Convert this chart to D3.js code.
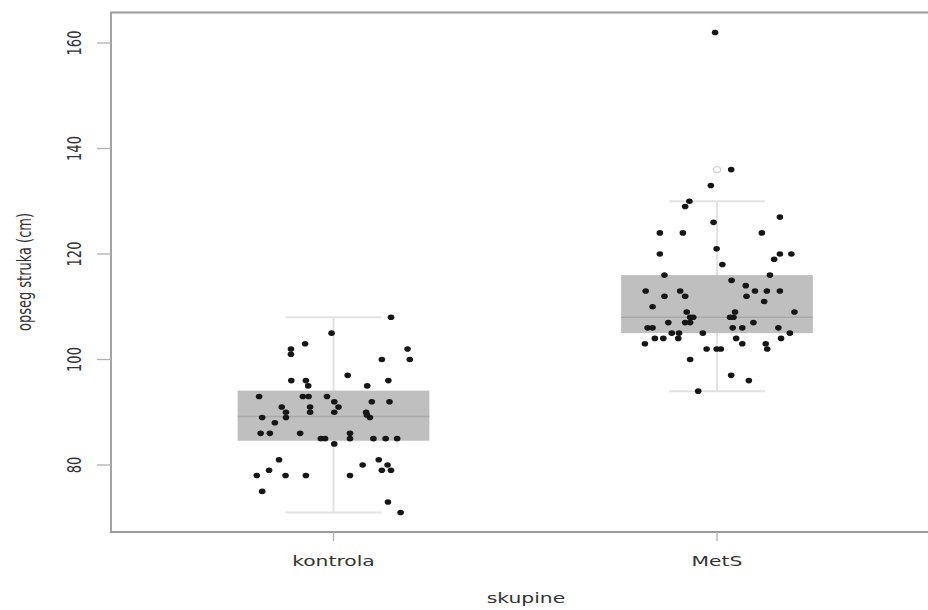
<!DOCTYPE html>
<html><head><meta charset="utf-8">
<script src="https://cdn.jsdelivr.net/npm/d3@7"></script>
<style>html,body{margin:0;padding:0;background:#fff;}svg{display:block;}</style>
</head><body>
<script>
// ---- data ----
const categories = ["kontrola", "MetS"];
const yTicks = [80, 100, 120, 140, 160];
// box summaries: [lower whisker, q1, median, q3, upper whisker]
const boxKontrola = [71, 84.6, 89.2, 94.1, 108];
const boxMetS = [94, 105, 108, 116, 130];
const outliersMetS = [136, 162];
// jittered points: value and horizontal jitter (category units)
const kontrolaValues = [108,105,103,102,101,102,100,100,97,96,96,95,96,95,93,93,93,93,92,92,92,91,91,91,90,90,90,90,89.5,89,89,89,88,86,86,86,86,85,85,85,85,85,85,84,81,81,80,80,79,79,79,78,78,78,78,75,73,71];
const kontrolaJitter = [0.150,-0.005,-0.074,-0.111,-0.111,0.193,0.199,0.126,0.037,-0.110,-0.072,-0.066,0.143,0.088,-0.194,-0.080,-0.065,-0.017,0.100,0.146,0.002,0.013,-0.135,-0.061,-0.124,-0.061,0.002,0.085,0.087,0.095,-0.124,-0.186,-0.153,-0.190,-0.166,-0.087,0.043,0.043,-0.033,-0.022,0.104,0.136,0.166,0.002,-0.142,0.118,0.076,0.141,0.150,0.126,-0.168,-0.200,-0.125,-0.072,0.043,-0.186,0.142,0.175];
const metsValues = [162,136,133,130,129,127,126,124,124,124,121,120,120,120,119,118,116,116,115,114,113,113,113,113,113,112,112,112,111,110,109,109,109,108,108,108,108,107,107,107,107,106,106,106,106,106,105,105,105,105,104,104,104,104,104,103,103,103,102,102,102,102,100,97,96,94];
const metsJitter = [-0.005,0.037,-0.016,-0.072,-0.083,0.164,-0.009,-0.149,-0.089,0.117,-0.001,-0.149,0.164,0.194,0.149,0.014,-0.137,0.138,0.038,0.075,-0.186,-0.096,0.099,0.130,0.164,-0.137,-0.083,0.077,0.123,-0.168,0.202,-0.079,0.047,-0.062,-0.070,0.043,0.034,-0.127,-0.083,-0.070,0.095,-0.181,-0.168,0.041,0.066,0.160,-0.118,-0.099,-0.037,0.190,-0.162,-0.140,-0.101,0.050,0.167,-0.188,0.066,0.127,0.131,-0.027,-0.001,0.010,-0.070,0.037,0.083,-0.049];

const W = 928, H = 610;
const svg = d3.select("body").append("svg").attr("width", W).attr("height", H);
const k = 1.45; // horizontal stretch of the source image

const x = d3.scaleLinear().domain([1, 2]).range([333.5, 717]);
const y = d3.scaleLinear().domain([80, 160]).range([465, 43]);
const frame = {left: 111, top: 12.5, bottom: 532, right: 945};

const boxes = [
  {i: 1, s: boxKontrola, outliers: []},
  {i: 2, s: boxMetS, outliers: [outliersMetS[0]]}
];
const boxHalf = 0.25, capHalf = 0.125;

boxes.forEach(b => {
  const g = svg.append("g").attr("stroke", "#e2e2e2").attr("stroke-width", 2).attr("fill", "none");
  g.append("line").attr("x1", x(b.i)).attr("x2", x(b.i)).attr("y1", y(b.s[0])).attr("y2", y(b.s[4]));
  g.append("line").attr("x1", x(b.i - capHalf)).attr("x2", x(b.i + capHalf)).attr("y1", y(b.s[0])).attr("y2", y(b.s[0]));
  g.append("line").attr("x1", x(b.i - capHalf)).attr("x2", x(b.i + capHalf)).attr("y1", y(b.s[4])).attr("y2", y(b.s[4]));
  svg.append("rect").attr("x", x(b.i - boxHalf)).attr("width", x(b.i + boxHalf) - x(b.i - boxHalf))
    .attr("y", y(b.s[3])).attr("height", y(b.s[1]) - y(b.s[3])).attr("fill", "#bfbfbf");
  svg.append("line").attr("x1", x(b.i - boxHalf)).attr("x2", x(b.i + boxHalf))
    .attr("y1", y(b.s[2])).attr("y2", y(b.s[2])).attr("stroke", "#a9a9a9").attr("stroke-width", 1.5);
  b.outliers.forEach(o => {
    svg.append("ellipse").attr("cx", x(b.i)).attr("cy", y(o)).attr("rx", 3.6).attr("ry", 3)
      .attr("fill", "#fff").attr("stroke", "#d4d4d4").attr("stroke-width", 1.3);
  });
});

// points
const pts = [];
kontrolaValues.forEach((v, j) => pts.push({i: 1, v, jit: kontrolaJitter[j]}));
metsValues.forEach((v, j) => pts.push({i: 2, v, jit: metsJitter[j]}));
svg.append("g").selectAll("ellipse").data(pts).join("ellipse")
  .attr("cx", d => x(d.i + d.jit)).attr("cy", d => y(d.v))
  .attr("rx", 3.3).attr("ry", 2.8).attr("fill", "#161616");

// frame
svg.append("path")
  .attr("d", `M${frame.right},${frame.top}H${frame.left}V${frame.bottom}H${frame.right}`)
  .attr("fill", "none").attr("stroke", "#9a9a9a").attr("stroke-width", 1.8);

// y axis ticks and labels
const yt = svg.append("g");
yTicks.forEach(t => {
  yt.append("line").attr("x1", 97).attr("x2", frame.left).attr("y1", y(t)).attr("y2", y(t))
    .attr("stroke", "#b0b0b0").attr("stroke-width", 1.3);
  yt.append("text").attr("transform", `translate(81,${y(t)}) rotate(-90) scale(1,${k})`)
    .attr("text-anchor", "middle").attr("font-family", "DejaVu Sans").attr("font-size", 13)
    .attr("fill", "#333").text(t);
});
// x axis ticks and labels
categories.forEach((c, j) => {
  svg.append("line").attr("x1", x(j + 1)).attr("x2", x(j + 1)).attr("y1", frame.bottom).attr("y2", frame.bottom + 9)
    .attr("stroke", "#b0b0b0").attr("stroke-width", 1.3);
  svg.append("text").attr("transform", `translate(${x(j + 1)},566) scale(${k},1)`)
    .attr("text-anchor", "middle").attr("font-family", "DejaVu Sans").attr("font-size", 14)
    .attr("fill", "#333").text(c);
});
// axis titles
svg.append("text").attr("transform", `translate(526,603) scale(${k},1)`)
  .attr("text-anchor", "middle").attr("font-family", "DejaVu Sans").attr("font-size", 14)
  .attr("fill", "#333").text("skupine");
svg.append("text").attr("transform", `translate(31,272) rotate(-90) scale(1,${k})`)
  .attr("text-anchor", "middle").attr("font-family", "DejaVu Sans").attr("font-size", 13)
  .attr("fill", "#333").text("opseg struka (cm)");
</script>
</body></html>
